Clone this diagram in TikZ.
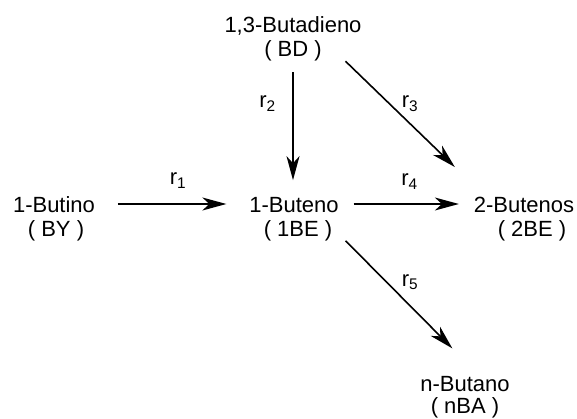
\documentclass[tikz,border=0pt]{standalone}
\usepackage{fontspec}
\setmainfont{Liberation Sans}
\usetikzlibrary{arrows.meta}
\tikzset{
  species/.style={align=center, inner sep=0pt, outer sep=0pt, font=\fontsize{22}{24}\selectfont},
  rate/.style={inner sep=0pt, font=\fontsize{22}{24}\selectfont},
  rxn/.style={line width=1.6pt, -{Stealth[length=24pt,width=13pt,inset=7pt]}}
}
\begin{document}
\begin{tikzpicture}[x=1pt,y=-1pt]
\useasboundingbox (0,0) rectangle (577,419);
\node[species] (BD)  at (293,39)  {1,3-Butadieno\\( BD )};
\node[species] (BY)  at (54,219)  {1-Butino\\\hspace*{4pt}( BY )};
\node[species] (BE1) at (294,219) {1-Buteno\\\hspace*{8pt}( 1BE )};
\node[species] (BE2) at (524,219) {2-Butenos\\\hspace*{16pt}( 2BE )};
\node[species] (nBA) at (465,397) {n-Butano\\[-2.5pt]( nBA )};

\draw[rxn] ([xshift=23pt,yshift=15pt]BY.east) -- ([xshift=-23pt,yshift=15pt]BE1.west);
\draw[rxn] ([yshift=-11pt]BD.south) -- ([yshift=17pt]BD.south |- BE1.north);
\draw[rxn] ([xshift=-16pt]BD.south east) -- ([xshift=-19pt,yshift=30pt]BE2.north west);
\draw[rxn] ([xshift=15pt,yshift=15pt]BE1.east) -- ([xshift=-15pt,yshift=15pt]BE2.west);
\draw[rxn] ([xshift=7pt]BE1.south east) -- ([xshift=32pt,yshift=28pt]nBA.north west);

\node[rate] (r1) at (178,180.5) {r\textsubscript{1}};
\node[rate] (r2) at (267.5,103.5) {r\textsubscript{2}};
\node[rate] (r3) at (410,103.5) {r\textsubscript{3}};
\node[rate] (r4) at (409.5,181.5) {r\textsubscript{4}};
\node[rate] (r5) at (410,282) {r\textsubscript{5}};
\end{tikzpicture}
\end{document}
